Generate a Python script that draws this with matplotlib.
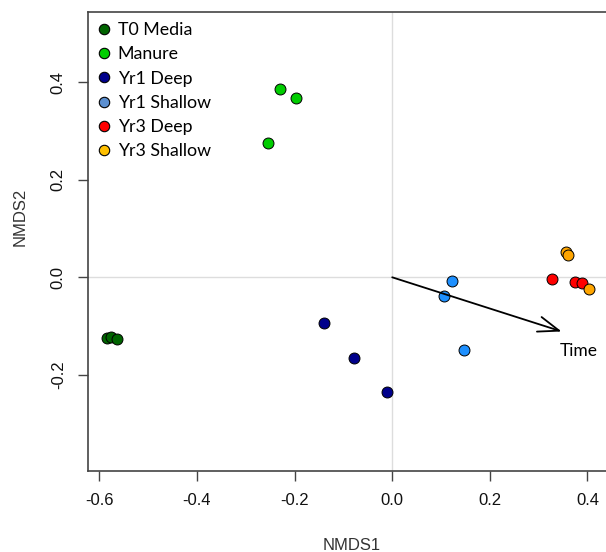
import matplotlib
matplotlib.use("Agg")
import matplotlib.pyplot as plt
from matplotlib.lines import Line2D

# NMDS site scores per treatment group
groups = ["T0 Media", "Manure", "Yr1 Deep", "Yr1 Shallow", "Yr3 Deep", "Yr3 Shallow"]
nmds1 = [
    [-0.585, -0.577, -0.563],
    [-0.230, -0.197, -0.255],
    [-0.140, -0.078, -0.010],
    [0.123, 0.107, 0.147],
    [0.327, 0.374, 0.389],
    [0.355, 0.361, 0.403],
]
nmds2 = [
    [-0.125, -0.122, -0.127],
    [0.386, 0.368, 0.276],
    [-0.093, -0.165, -0.236],
    [-0.007, -0.038, -0.149],
    [-0.004, -0.010, -0.011],
    [0.052, 0.045, -0.023],
]
point_colors = ["#006400", "#00CD00", "#00008B", "#1E90FF", "#FF0000", "#FFA500"]
legend_colors = ["#006400", "#00CD00", "#00008B", "#5B8FD0", "#FF0000", "#FFC000"]

# time vector (envfit-style arrow)
time_vec = (0.347, -0.111)
time_label_pos = (0.382, -0.150)

W, H = 606, 552
fig = plt.figure(figsize=(W / 100, H / 100), dpi=100)
ax = fig.add_axes([88 / W, (H - 471) / H, (614 - 88) / W, (471 - 12) / H])

ax.set_xlim(-0.6 - (99.3 - 88) / 488, (614 - 392.3) / 488)
ax.set_ylim((277.3 - 471) / 488, (277.3 - 12) / 488)

ax.axhline(0, color="#dddddd", lw=1, zorder=0)
ax.axvline(0, color="#dddddd", lw=1, zorder=0)

for xs, ys, c in zip(nmds1, nmds2, point_colors):
    ax.scatter(xs, ys, s=62, color=c, edgecolor="black", linewidth=0.7, zorder=3)

ax.annotate("", xy=time_vec, xytext=(0, 0),
            arrowprops=dict(arrowstyle="->,head_length=1.5,head_width=0.55",
                            color="black", lw=1.3, shrinkA=0, shrinkB=0))
ax.text(time_label_pos[0], time_label_pos[1], "Time", fontsize=12.5,
        family="Lato", ha="center", va="center")

handles = [Line2D([], [], marker="o", linestyle="none", markersize=7.5,
                  markerfacecolor=c, markeredgecolor="black", markeredgewidth=0.8)
           for c in legend_colors]
leg = ax.legend(handles, groups, loc="upper left", frameon=False,
                prop=dict(family="Lato", size=12.8), handlelength=0.6,
                handletextpad=0.5, labelspacing=0.46, borderaxespad=0.33,
                borderpad=0.25)

for side in ["left", "bottom", "top", "right"]:
    ax.spines[side].set_color("#444444")
    ax.spines[side].set_linewidth(1.2)

ax.set_xticks([-0.6, -0.4, -0.2, 0.0, 0.2, 0.4])
ax.set_yticks([-0.2, 0.0, 0.2, 0.4])
ax.set_xticklabels(["-0.6", "-0.4", "-0.2", "0.0", "0.2", "0.4"])
ax.set_yticklabels(["-0.2", "0.0", "0.2", "0.4"], rotation=90, va="center")
ax.tick_params(axis="both", length=7, width=1, color="#444444",
               labelsize=12, pad=9, labelcolor="#111111")
for lab in ax.get_xticklabels() + ax.get_yticklabels():
    lab.set_family("Liberation Sans")

ax.set_xlabel("NMDS1", fontsize=12, family="Liberation Sans", color="#333333")
ax.set_ylabel("NMDS2", fontsize=12, family="Liberation Sans", color="#333333")
ax.xaxis.set_label_coords((352 - 88) / (614 - 88), -(545 - 471) / (471 - 12))
ax.yaxis.set_label_coords(-(88 - 20) / (614 - 88), (471 - 217) / (471 - 12))
ax.xaxis.label.set_va("center")
ax.yaxis.label.set_va("center")

fig.savefig("out.png", dpi=100)
